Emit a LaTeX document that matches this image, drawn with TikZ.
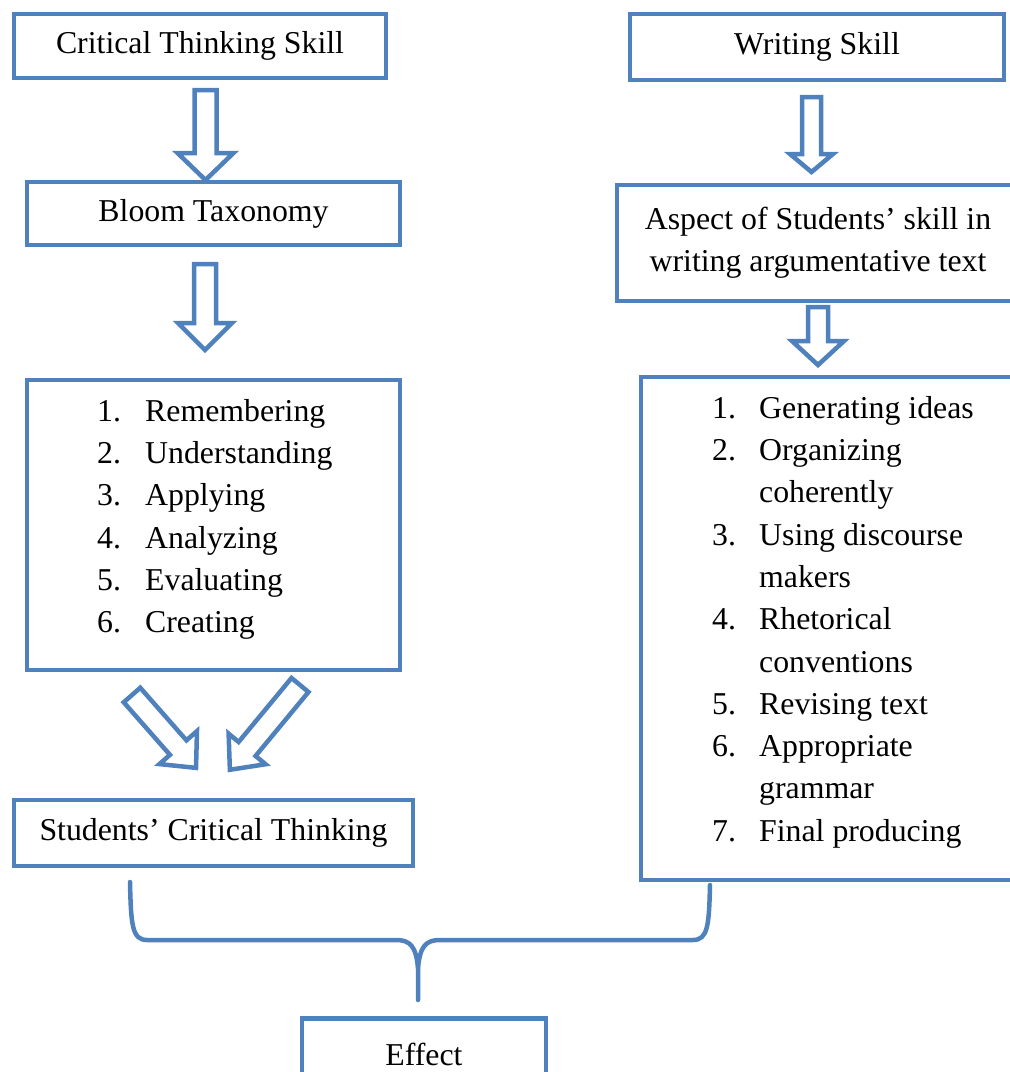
\documentclass[tikz,border=0pt]{standalone}
\usepackage{fontspec}
\setmainfont{Liberation Serif}
\usetikzlibrary{calc}
\definecolor{boxblue}{RGB}{79,129,189}
\newcommand\bodyfont{\fontsize{31.8}{42.3}\selectfont}
\newcommand\blkarrow[7]{% tail x, tail y, angle, length, half shaft, half head, head length
  \begin{scope}[shift={(#1,#2)},rotate=#3]
    \draw[arrowshape] (-#5,0) -- (-#5,#4-#7) -- (-#6,#4-#7) -- (0,#4) -- (#6,#4-#7) -- (#5,#4-#7) -- (#5,0) -- cycle;
  \end{scope}}
\begin{document}
\begin{tikzpicture}[x=1pt,y=-1pt,
  box/.style={draw=boxblue,line width=4.5pt,fill=white,inner sep=0pt,font=\bodyfont},
  arrowshape/.style={draw=boxblue,line width=4.5pt,fill=white,line join=miter},
  brace/.style={draw=boxblue,line width=4.5pt,line cap=round,line join=round},
  listtext/.style={anchor=north west,inner sep=0pt,font=\bodyfont}]
\path[use as bounding box] (0,0) rectangle (1010,1072);
\clip (0,0) rectangle (1010,1072);

% left column
\node[box,minimum width=372,minimum height=64] (cts) at (200,46) {Critical Thinking Skill};
\node[box,minimum width=373,minimum height=63] (bloom) at (213.5,213.5) {Bloom Taxonomy};
\node[box,minimum width=373,minimum height=290] (llist) at (213.5,525) {};
\node[listtext] (ltext) at (97,391.4) {\begin{tabular}{@{}p{48pt}@{}l@{}}
1. & Remembering\\
2. & Understanding\\
3. & Applying\\
4. & Analyzing\\
5. & Evaluating\\
6. & Creating
\end{tabular}};
\node[box,minimum width=399,minimum height=66] (sct) at (213.5,833) {Students’ Critical Thinking};

% right column
\node[box,minimum width=374,minimum height=66] (ws) at (817,47) {Writing Skill};
\node[box,minimum width=402,minimum height=116,align=center] (aspect) at (818,243) {Aspect of Students’ skill in\\writing argumentative text};
\node[box,minimum width=420,minimum height=503] (rlist) at (851,628.5) {};
\node[listtext] (rtext) at (712,388.4) {\begin{tabular}{@{}p{47pt}@{}l@{}}
1. & Generating ideas\\
2. & Organizing\\
   & coherently\\
3. & Using discourse\\
   & makers\\
4. & Rhetorical\\
   & conventions\\
5. & Revising text\\
6. & Appropriate\\
   & grammar\\
7. & Final producing
\end{tabular}};

% bottom
\node[box,minimum width=244,minimum height=71] (eff) at (424,1054) {Effect};

% block arrows
\blkarrow{205.5}{90}{0}{90}{11}{28}{27}
\blkarrow{205}{264}{0}{86}{11}{27}{27}
\blkarrow{811.5}{97}{0}{75}{9.5}{21.5}{18}
\blkarrow{818}{307}{0}{58}{10}{26}{24}
\blkarrow{132}{695}{41.3}{97}{11}{25}{27}
\blkarrow{300}{685}{-39.6}{110}{11}{24}{27}

% brace
\coordinate (bl) at (130,882);
\coordinate (br) at (710,885);
\coordinate (bm) at (418,1000);
\draw[brace] (bl) .. controls (131,925) and (132,940) .. (147,940) -- (396,940)
  .. controls (410,940) and (416,946) .. (418,968) -- (bm);
\draw[brace] (br) .. controls (709,925) and (708,940) .. (693,940) -- (440,940)
  .. controls (426,940) and (420,946) .. (418,968);
\end{tikzpicture}
\end{document}
